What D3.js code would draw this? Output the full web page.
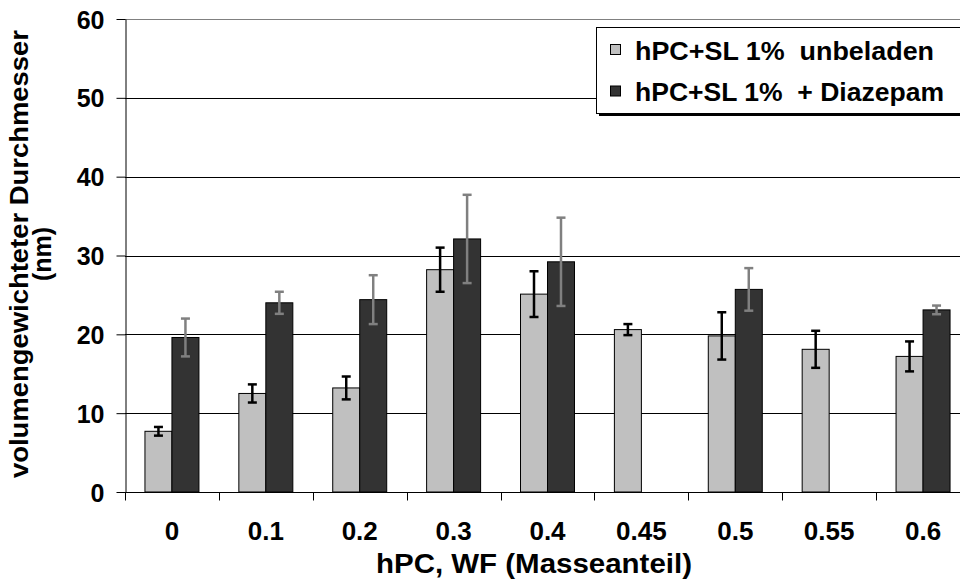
<!DOCTYPE html>
<html><head><meta charset="utf-8">
<script src="https://cdn.jsdelivr.net/npm/d3@7"></script>
<style>
html,body{margin:0;padding:0;background:#fff;}
text{font-family:"Liberation Sans",Arial,sans-serif;font-weight:bold;fill:#000;}
</style></head>
<body><svg id="c" width="960" height="580"></svg>
<script>
const categories = ["0","0.1","0.2","0.3","0.4","0.45","0.5","0.55","0.6"];
const seriesNames = ["hPC+SL 1%  unbeladen","hPC+SL 1%  + Diazepam"];
const unbeladen    = [7.7, 12.5, 13.2, 28.2, 25.1, 20.6, 19.8, 18.1, 17.2];
const unbeladenErr = [0.55, 1.15, 1.45, 2.8, 2.9, 0.7, 3.0, 2.35, 1.9];
const diazepam     = [19.6, 24.0, 24.4, 32.1, 29.2, null, 25.7, null, 23.1];
const diazepamErr  = [2.4, 1.4, 3.1, 5.6, 5.6, null, 2.7, null, 0.55];
const yTicks = [0,10,20,30,40,50,60];

const fills = ["#c0c0c0","#333333"];
const errColors = ["#000000","#808080"];

const svg = d3.select("#c");
const pLeft = 125, pRight = 970, pTop = 19, pBottom = 492;

const x0 = d3.scaleBand().domain(categories).range([pLeft, pRight]).padding(0);
const x1 = d3.scaleBand().domain([0,1]).range([0, x0.bandwidth()]).paddingInner(0).paddingOuter(0.739);
const y = d3.scaleLinear().domain([0,60]).range([pBottom, pTop]);

// gridlines
svg.append("g").selectAll("line").data(yTicks.filter(d=>d>0)).join("line")
  .attr("x1", pLeft).attr("x2", pRight)
  .attr("y1", d=>Math.round(y(d))+0.5).attr("y2", d=>Math.round(y(d))+0.5)
  .attr("stroke", d=> d===60 ? "#808080" : "#000").attr("stroke-width",1);

// bars
const data = categories.map((c,i)=>({c, vals:[
  {s:0, v:unbeladen[i], e:unbeladenErr[i]},
  {s:1, v:diazepam[i], e:diazepamErr[i]}
].filter(d=>d.v!=null)}));

const groups = svg.append("g").selectAll("g").data(data).join("g")
  .attr("transform", d=>`translate(${x0(d.c)},0)`);
groups.selectAll("rect").data(d=>d.vals).join("rect")
  .attr("x", d=>x1(d.s)).attr("width", x1.bandwidth())
  .attr("y", d=>y(d.v)).attr("height", d=>y(0)-y(d.v))
  .attr("fill", d=>fills[d.s]).attr("stroke","#000").attr("stroke-width",1);

// error bars
const eb = groups.selectAll("g.eb").data(d=>d.vals).join("g").attr("class","eb");
eb.append("line")
  .attr("x1", d=>x1(d.s)+x1.bandwidth()/2).attr("x2", d=>x1(d.s)+x1.bandwidth()/2)
  .attr("y1", d=>y(d.v+d.e)).attr("y2", d=>y(d.v-d.e))
  .attr("stroke", d=>errColors[d.s]).attr("stroke-width",2.5);
[1,-1].forEach(sign=>{
  eb.append("line")
    .attr("x1", d=>x1(d.s)+x1.bandwidth()/2-4.5).attr("x2", d=>x1(d.s)+x1.bandwidth()/2+4.5)
    .attr("y1", d=>y(d.v+sign*d.e)).attr("y2", d=>y(d.v+sign*d.e))
    .attr("stroke", d=>errColors[d.s]).attr("stroke-width",2.5);
});

// y axis
const yAxis = svg.append("g").attr("transform",`translate(${pLeft+0.5},0)`)
  .call(d3.axisLeft(y).tickValues(yTicks).tickSize(9).tickSizeOuter(0).tickPadding(12));
yAxis.select(".domain").attr("stroke","#000");
yAxis.selectAll(".tick line").attr("stroke","#000");
yAxis.selectAll(".tick text").attr("font-size",25).attr("dy","0.36em")
  .style("font-family","'Liberation Sans',Arial,sans-serif").style("font-weight","bold");

// x axis
const xAxis = svg.append("g").attr("transform",`translate(0,${pBottom+0.5})`)
  .call(d3.axisBottom(x0).tickSize(0).tickPadding(29));
xAxis.select(".domain").attr("d",`M${pLeft},0H${pRight}`).attr("stroke","#000");
xAxis.selectAll(".tick text").attr("font-size",26)
  .style("font-family","'Liberation Sans',Arial,sans-serif").style("font-weight","bold");
const bounds = categories.map(c=>x0(c)).concat([x0.range()[1]]);
xAxis.append("g").selectAll("line").data(bounds).join("line")
  .attr("x1",d=>Math.round(d)+0.5).attr("x2",d=>Math.round(d)+0.5)
  .attr("y1",0).attr("y2",8).attr("stroke","#000");

// axis titles
svg.append("text").attr("x",534).attr("y",573).attr("text-anchor","middle")
  .attr("font-size",27).attr("textLength",316).attr("lengthAdjust","spacingAndGlyphs")
  .text("hPC, WF (Masseanteil)");
const yt = svg.append("text").attr("transform","translate(28,254) rotate(-90)")
  .attr("text-anchor","middle").attr("font-size",25);
yt.append("tspan").attr("x",0).attr("y",0).attr("textLength",448).attr("lengthAdjust","spacingAndGlyphs")
  .text("volumengewichteter Durchmesser");
yt.append("tspan").attr("x",0).attr("y",23).text("(nm)");

// legend
const lg = svg.append("g");
lg.append("rect").attr("x",599).attr("y",31).attr("width",380).attr("height",85).attr("fill","#000");
lg.append("rect").attr("x",596.5).attr("y",27.5).attr("width",380).attr("height",86)
  .attr("fill","#fff").attr("stroke","#000").attr("stroke-width",1);
const li = lg.selectAll("g.li").data(seriesNames).join("g").attr("class","li")
  .attr("transform",(d,i)=>`translate(610,${44+i*41.5})`);
li.append("rect").attr("x",0.5).attr("y",0.5).attr("width",10).attr("height",10)
  .attr("fill",(d,i)=>fills[i]).attr("stroke","#000");
li.append("text").attr("x",25).attr("y",15.5).attr("font-size",25)
  .attr("textLength",(d,i)=>i===0?299:309).attr("lengthAdjust","spacingAndGlyphs")
  .style("white-space","pre").text(d=>d);
</script></body></html>
